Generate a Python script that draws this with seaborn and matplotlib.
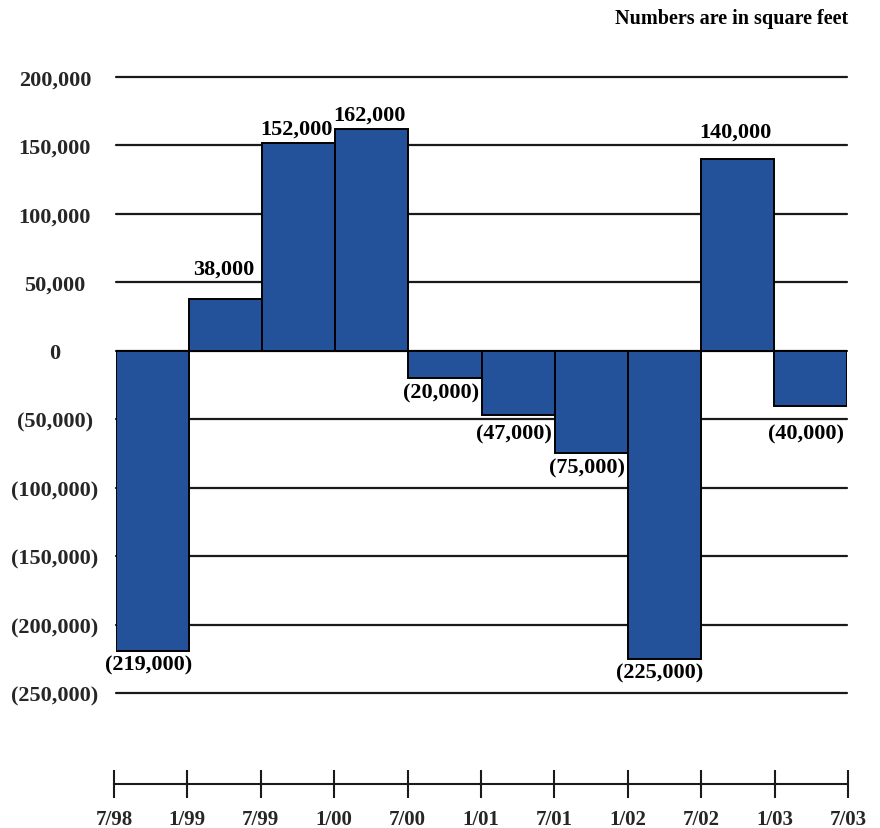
import matplotlib
matplotlib.use("Agg")
import matplotlib.pyplot as plt
import seaborn as sns
import pandas as pd

# Half-year net absorption, square feet
periods = ["7/98-1/99", "1/99-7/99", "7/99-1/00", "1/00-7/00", "7/00-1/01",
           "1/01-7/01", "7/01-1/02", "1/02-7/02", "7/02-1/03", "1/03-7/03"]
changes = [-219000, 38000, 152000, 162000, -20000,
           -47000, -75000, -225000, 140000, -40000]
date_marks = ["7/98", "1/99", "7/99", "1/00", "7/00", "1/01",
              "7/01", "1/02", "7/02", "1/03", "7/03"]
y_ticks = [200000, 150000, 100000, 50000, 0,
           -50000, -100000, -150000, -200000, -250000]

BAR_BLUE = "#23519A"
LINE = "#1a1a1a"

sns.set_theme(style="white")
plt.rcParams["font.family"] = ["Liberation Serif", "DejaVu Serif"]
plt.rcParams["font.weight"] = "bold"


def fmt(v):
    if v < 0:
        return "({:,})".format(-v)
    return "{:,}".format(v)


W, H = 880, 829
fig = plt.figure(figsize=(W / 100, H / 100), dpi=100)
fig.patch.set_facecolor("white")

left, right = 116 / W, 847 / W
ax = fig.add_axes([left, 1 - 694 / H, right - left, (694 - 78) / H])

df = pd.DataFrame({"period": periods, "change": changes})
sns.barplot(data=df, x="period", y="change", order=periods, color=BAR_BLUE,
            saturation=1, width=1.0, edgecolor="black", linewidth=1.4,
            ax=ax, zorder=3)

ax.set_xlim(-0.5, len(periods) - 0.5)
ax.set_ylim(-250000, 200000)
ax.set_yticks(y_ticks)
ax.set_yticklabels([fmt(v) for v in y_ticks], fontsize=16, fontweight="bold",
                   ha="center")
ax.tick_params(axis="y", length=0, pad=44)
ax.set_xticks([])
ax.set_xlabel("")
ax.set_ylabel("")
ax.set_axisbelow(True)
ax.yaxis.grid(True, color=LINE, linewidth=1.6)
ax.xaxis.grid(False)
for gl in ax.get_ygridlines():
    gl.set_clip_on(False)
for s in ax.spines.values():
    s.set_visible(False)

# Value labels above/below each bar; a label that would sit on a grid line
# is moved past that line instead.
clearance = 15000  # roughly one label height in data units
for i, v in enumerate(changes):
    if v >= 0:
        anchor = v
        above = [t for t in y_ticks if t > v]
        if above and min(above) - v < clearance:
            anchor = min(above)
        ax.annotate(fmt(v), (i - 0.03, anchor), xytext=(0, 3),
                    textcoords="offset points", ha="center", va="bottom",
                    fontsize=16, fontweight="bold", color="black", zorder=4)
    else:
        anchor = v
        below = [t for t in y_ticks if t < v]
        if below and v - max(below) < clearance:
            anchor = max(below)
        ax.annotate(fmt(v), (i - 0.06, anchor), xytext=(0, -3),
                    textcoords="offset points", ha="center", va="top",
                    fontsize=16, fontweight="bold", color="black", zorder=4)

# Timeline strip with date marks at the bar boundaries
ax2 = fig.add_axes([left - 2 / W, 1 - 785 / H, (right - left) + 3 / W, 0.0001])
ax2.set_xlim(-0.5, len(periods) - 0.5)
ax2.set_ylim(0, 1)
ax2.set_yticks([])
ax2.set_xticks([i - 0.5 for i in range(len(date_marks))])
ax2.set_xticklabels(date_marks, fontsize=15, fontweight="bold")
ax2.tick_params(axis="x", bottom=True, direction="inout", length=19.5,
                width=1.5, color=LINE, pad=8.5)
for name, s in ax2.spines.items():
    s.set_visible(name == "bottom")
ax2.spines["bottom"].set_color(LINE)
ax2.spines["bottom"].set_linewidth(1.5)
ax2.set_facecolor("none")

fig.text(848 / W, 1 - 19 / H, "Numbers are in square feet", ha="right",
         va="center", fontsize=14.5, fontweight="bold", color="black")

fig.savefig("out.png", dpi=100, facecolor="white")
